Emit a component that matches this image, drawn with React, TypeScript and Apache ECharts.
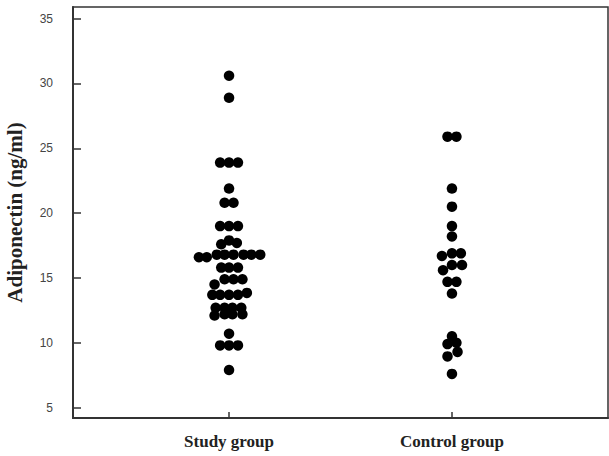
import React, { useEffect, useRef } from "react";
import * as echarts from "echarts";

const groups = ["Study group", "Control group"];
const yTicks = [5, 10, 15, 20, 25, 30, 35];

// [horizontal swarm offset (axis units), adiponectin value]
const studyPoints: [number, number][] = [
  [0, 30.6], [0, 28.9],
  [-0.04, 23.9], [0, 23.9], [0.04, 23.9],
  [0, 21.9],
  [-0.02, 20.8], [0.02, 20.8],
  [-0.04, 19.0], [0, 19.0], [0.04, 19.0],
  [-0.035, 17.6], [0, 17.9], [0.035, 17.7],
  [-0.135, 16.6], [-0.1, 16.6], [-0.055, 16.8], [-0.02, 16.8], [0.02, 16.8], [0.065, 16.8], [0.1, 16.8], [0.14, 16.8],
  [-0.035, 15.8], [0, 15.8], [0.04, 15.8],
  [-0.065, 14.5], [-0.02, 14.9], [0.02, 14.9], [0.06, 14.9],
  [-0.075, 13.7], [-0.04, 13.7], [0, 13.7], [0.04, 13.7], [0.08, 13.85],
  [-0.06, 12.7], [-0.02, 12.7], [0.015, 12.7], [0.055, 12.7],
  [0, 12.5],
  [-0.065, 12.1], [-0.02, 12.2], [0.015, 12.2], [0.06, 12.2],
  [0, 10.7],
  [-0.04, 9.8], [0, 9.8], [0.04, 9.8],
  [0, 7.9],
];

const controlPoints: [number, number][] = [
  [-0.02, 25.9], [0.02, 25.9],
  [0, 21.9],
  [0, 20.5],
  [0, 19.0],
  [0, 18.2],
  [-0.045, 16.7], [0, 16.9], [0.04, 16.9],
  [-0.04, 15.6], [0, 16.0], [0.045, 16.0],
  [-0.02, 14.7], [0.02, 14.7],
  [0, 13.8],
  [0, 10.5],
  [-0.02, 9.9], [0.02, 10.0],
  [0.025, 9.3],
  [-0.02, 8.95],
  [0, 7.6],
];

export default function App() {
  const ref = useRef<HTMLDivElement>(null);
  useEffect(() => {
    if (!ref.current) return;
    const chart = echarts.init(ref.current, undefined, { renderer: "svg" });
    const toData = (pts: [number, number][], center: number) =>
      pts.map(([dx, v]) => [center + dx, v]);
    chart.setOption({
      animation: false,
      grid: {
        left: 73,
        top: 7,
        right: 1,
        bottom: 38,
        outerBoundsMode: "none",
        containLabel: false,
        show: true,
        borderColor: "#333",
        borderWidth: 1.5,
        backgroundColor: "#fff",
      },
      xAxis: {
        type: "value",
        min: 0.3,
        max: 2.7,
        splitLine: { show: false },
        axisLine: { lineStyle: { color: "#333", width: 2 } },
        axisTick: {
          inside: true,
          length: 6,
          customValues: [1, 2],
          lineStyle: { color: "#333", width: 1.5 },
        },
        axisLabel: {
          customValues: [1, 2],
          margin: 15,
          formatter: (v: number) => groups[Math.round(v) - 1] ?? "",
          fontFamily: "Liberation Serif",
          fontWeight: "bold",
          fontSize: 17,
          color: "#222",
        },
      },
      yAxis: {
        type: "value",
        min: 4.2,
        max: 35.9,
        name: "Adiponectin (ng/ml)",
        nameLocation: "middle",
        nameGap: 48,
        nameTextStyle: {
          fontFamily: "Liberation Serif",
          fontWeight: "bold",
          fontSize: 21,
          color: "#222",
        },
        splitLine: { show: false },
        axisLine: { lineStyle: { color: "#333", width: 2 } },
        axisTick: {
          inside: true,
          length: 8,
          customValues: yTicks,
          lineStyle: { color: "#333", width: 1.5 },
        },
        axisLabel: {
          customValues: yTicks,
          margin: 20,
          fontFamily: "Liberation Sans",
          fontSize: 12,
          color: "#444",
        },
      },
      series: [
        {
          type: "scatter",
          data: toData(studyPoints, 1),
          symbol: "circle",
          symbolSize: 10.5,
          itemStyle: { color: "#000", opacity: 1 },
        },
        {
          type: "scatter",
          data: toData(controlPoints, 2),
          symbol: "circle",
          symbolSize: 10.5,
          itemStyle: { color: "#000", opacity: 1 },
        },
      ],
    });
    return () => chart.dispose();
  }, []);
  return (
    <div
      ref={ref}
      style={{ width: 609, height: 456, position: "absolute", left: 0, top: 0 }}
    />
  );
}
